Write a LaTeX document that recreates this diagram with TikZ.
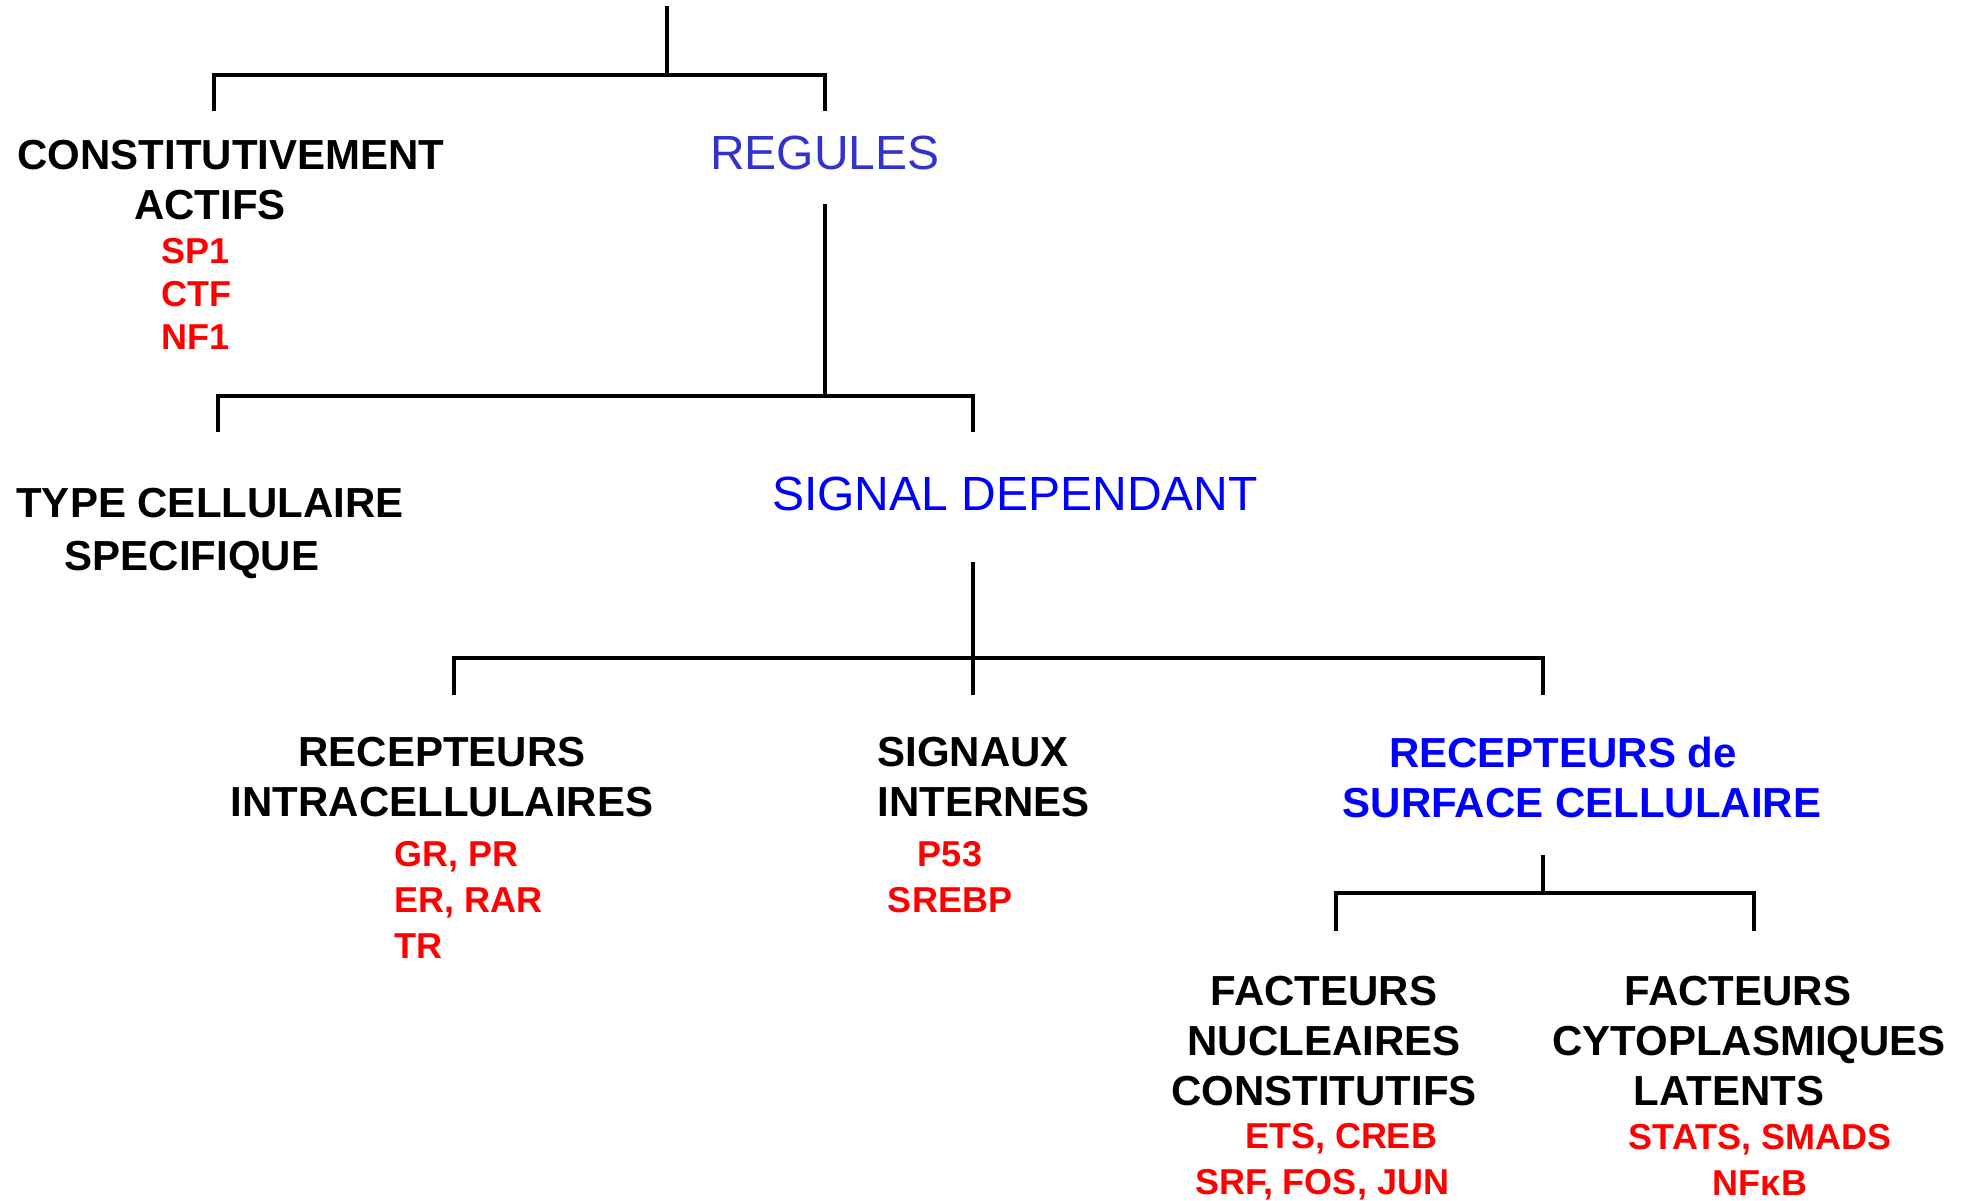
\documentclass[tikz,border=0pt]{standalone}
\usepackage{fontspec}
\setmainfont{Liberation Sans}
\definecolor{bleuclair}{RGB}{51,51,204}
\begin{document}
\begin{tikzpicture}[x=0.5pt,y=-0.5pt,
 classe/.style={font=\bfseries\fontsize{21}{25}\selectfont,align=center,inner sep=0pt},
 liste/.style={font=\bfseries\fontsize{18}{23}\selectfont,text=red,inner sep=0pt},
 choix/.style={font=\fontsize{24}{28}\selectfont,inner sep=0pt},
 trait/.style={line width=2.4pt}]
 \useasboundingbox (0,0) rectangle (1973,1200);
 \node[classe] (constit) at (231,180) {CONSTITUTIVEMENT\\ACTIFS\hspace*{21pt}};
 \node[liste,font=\bfseries\fontsize{18}{21.5}\selectfont,align=left,anchor=west] (sp) at (161,294) {SP1\\CTF\\NF1};
 \node[choix,text=bleuclair] (regules) at (825,153) {REGULES};
 \node[classe] (type) at (210,533) {TYPE CELLULAIRE\\[1.5pt]SPECIFIQUE\hspace*{18pt}};
 \node[choix,text=blue] (signal) at (1015,494) {SIGNAL DEPENDANT};
 \node[classe] (intra) at (442,777) {RECEPTEURS\\INTRACELLULAIRES};
 \node[liste,align=left,anchor=west] (gr) at (394,900) {GR, PR\\ER, RAR\\TR};
 \node[classe,align=left,anchor=west] (internes) at (877,777) {SIGNAUX\\INTERNES};
 \node[liste,align=center] (p53) at (950,877) {P53\\SREBP};
 \node[classe,text=blue] (surface) at (1563,777) {RECEPTEURS de\\\hspace*{19pt}SURFACE CELLULAIRE};
 \node[classe] (nucl) at (1324,1041) {FACTEURS\\NUCLEAIRES\\CONSTITUTIFS};
 \node[liste,align=center] (ets) at (1322,1162) {\hspace*{19pt}ETS, CREB\\SRF, FOS, JUN};
 \node[classe] (cyto) at (1738,1041) {FACTEURS\\\hspace*{11pt}CYTOPLASMIQUES\\LATENTS\hspace*{9pt}};
 \node[liste,align=center] (stats) at (1760,1160) {STATS, SMADS\\NFκB};

 \coordinate (r0) at (667,6);
 \coordinate (r1) at (667,75);
 \coordinate (c1) at (214,111);
 \coordinate (g1) at (825,111);
 \draw[trait] (r0) -- (r1);
 \draw[trait] (c1) |- (r1) -| (g1);

 \coordinate (g2) at (825,204);
 \coordinate (r2) at (825,396);
 \coordinate (t2) at (218,432);
 \coordinate (s2) at (973,432);
 \draw[trait] (g2) -- (r2);
 \draw[trait] (t2) |- (r2) -| (s2);

 \coordinate (s3) at (973,562);
 \coordinate (r3) at (973,658);
 \coordinate (i3) at (454,695);
 \coordinate (n3) at (973,695);
 \coordinate (e3) at (1543,695);
 \draw[trait] (s3) -- (n3);
 \draw[trait] (i3) |- (r3) -| (e3);

 \coordinate (e4) at (1543,855);
 \coordinate (r4) at (1543,893);
 \coordinate (n4) at (1336,931);
 \coordinate (y4) at (1754,931);
 \draw[trait] (e4) -- (r4);
 \draw[trait] (n4) |- (r4) -| (y4);
\end{tikzpicture}
\end{document}
